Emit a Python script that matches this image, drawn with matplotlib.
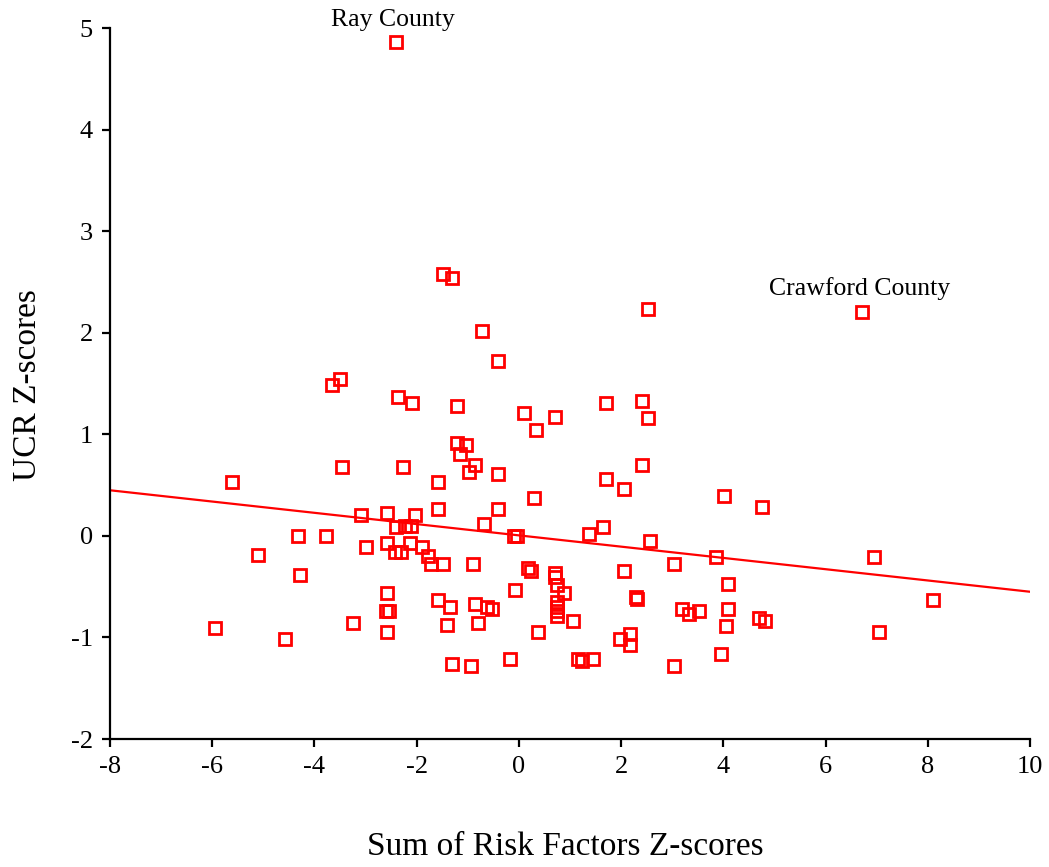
import matplotlib
matplotlib.use("Agg")
import matplotlib.pyplot as plt

plt.rcParams['font.family'] = ['Liberation Serif', 'DejaVu Serif']
plt.rcParams['axes.unicode_minus'] = False

# county points: sum of risk factor z-scores vs UCR z-scores
risk_z = [-2.40, -1.49, -1.31, -0.72, -0.40, -3.65, -3.50, -2.36, -2.09, -1.22,
          0.10, 0.70, 0.33, 1.70, 2.40, 2.53, 2.53, 6.71, -1.21, -1.03,
          -1.16, -0.85, -0.98, -0.40, -3.46, -2.27, -5.61, -1.58, -2.59, -3.09,
          -2.04, -1.58, -0.40, -0.68, -2.41, -2.22, -2.12, -4.33, -3.78, -0.09,
          -0.03, -2.59, -2.14, -3.00, -1.90, -2.42, -2.31, -5.11, -1.77, -1.72,
          -1.49, -0.90, -4.28, -0.07, -2.59, -1.58, -1.35, -0.85, -0.62, -0.53,
          -2.61, -2.54, -3.24, -1.40, -0.81, -5.94, -2.59, -4.57, -1.31, -0.94,
          -0.17,
          2.40, 1.70, 2.06, 0.29, 4.02, 4.75, 1.65, 1.38, 2.57, 3.86,
          6.94, 3.04, 0.18, 0.23, 0.70, 0.70, 2.06, 4.09, 0.74, 0.89,
          2.30, 2.32, 8.11, 0.74, 0.74, 0.74, 0.74, 3.19, 3.33, 3.52,
          4.09, 4.70, 4.81, 1.06, 4.05, 0.37, 7.04, 2.17, 1.97, 2.17,
          1.15, 1.24, 1.44, 3.96, 3.04]
ucr_z = [4.86, 2.58, 2.54, 2.02, 1.72, 1.49, 1.54, 1.37, 1.31, 1.28,
         1.21, 1.17, 1.04, 1.31, 1.33, 1.16, 2.23, 2.20, 0.91, 0.89,
         0.81, 0.70, 0.63, 0.61, 0.68, 0.68, 0.53, 0.53, 0.23, 0.21,
         0.21, 0.26, 0.26, 0.12, 0.09, 0.10, 0.10, 0.00, 0.00, 0.00,
         0.00, -0.07, -0.07, -0.11, -0.11, -0.16, -0.16, -0.19, -0.20, -0.28,
         -0.28, -0.28, -0.39, -0.53, -0.56, -0.63, -0.70, -0.67, -0.70, -0.72,
         -0.74, -0.74, -0.86, -0.88, -0.86, -0.91, -0.95, -1.02, -1.26, -1.28,
         -1.21,
         0.70, 0.56, 0.46, 0.37, 0.39, 0.28, 0.09, 0.02, -0.05, -0.21,
         -0.21, -0.28, -0.32, -0.35, -0.37, -0.40, -0.35, -0.47, -0.48, -0.56,
         -0.60, -0.62, -0.63, -0.65, -0.70, -0.74, -0.79, -0.72, -0.77, -0.74,
         -0.72, -0.81, -0.84, -0.84, -0.89, -0.95, -0.95, -0.97, -1.02, -1.07,
         -1.21, -1.23, -1.21, -1.16, -1.28]

# fitted line
fit_slope = -0.0555
fit_intercept = 0.005
x_range = [-8, 10]

fig = plt.figure(figsize=(10.49, 8.67), dpi=100)
ax = fig.add_axes([0.1049, 0.1476, 0.8770, 0.8201])

ax.plot(risk_z, ucr_z, 's', mfc='none', mec='#ff0000', ms=8, mew=2, clip_on=False)
ax.plot(x_range, [fit_intercept + fit_slope * v for v in x_range], color='#ff0000', lw=1.6)

ax.text(-2.47, 5.02, 'Ray County', ha='center', va='baseline', fontsize=18.5)
ax.text(6.67, 2.37, 'Crawford County', ha='center', va='baseline', fontsize=18.5)

ax.set_xlim(-8, 10)
ax.set_ylim(-2, 5)
ax.set_xticks(range(-8, 11, 2))
ax.set_yticks(range(-2, 6))
ax.spines['top'].set_visible(False)
ax.spines['right'].set_visible(False)
for s in ['left', 'bottom']:
    ax.spines[s].set_linewidth(1.6)
ax.tick_params(labelsize=19, width=1.6, length=5.5, direction='out', pad=7)

fig.text(565 / 1049, 1 - 847 / 867, 'Sum of Risk Factors Z-scores', ha='center', va='center', fontsize=24)
fig.text(28 / 1049, 1 - 385 / 867, 'UCR Z-scores', ha='center', va='center', rotation=90, fontsize=24)

plt.savefig('out.png', dpi=100)
